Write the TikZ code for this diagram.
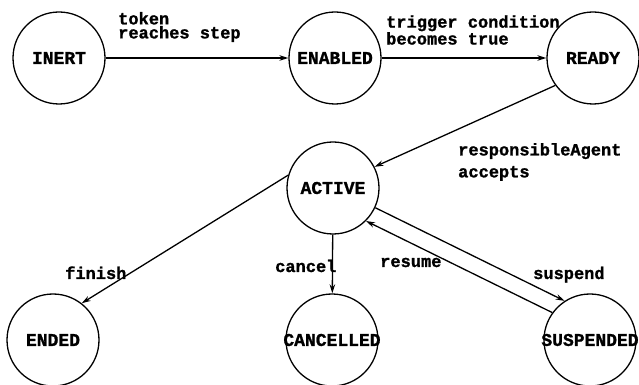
\documentclass[tikz,border=0pt]{standalone}
\usepackage{fontspec}
\setmonofont{Liberation Mono}[BoldFeatures={FakeBold=1.2}]
\usetikzlibrary{arrows.meta}
\newcommand{\statetext}[1]{\makebox[0pt]{#1}}

\begin{document}
\begin{tikzpicture}[x=1pt,y=1pt,
  state/.style={circle,draw,line width=1.3pt,minimum size=92pt,inner sep=0pt,
    font=\fontsize{18}{20}\selectfont\ttfamily\bfseries},
  trans/.style={line width=1.3pt,-{Stealth[length=9pt,width=5.5pt]}},
  lbl/.style={inner sep=0pt,align=left,font=\fontsize{17}{14}\selectfont\ttfamily\bfseries}]
\useasboundingbox (0,0) rectangle (639,385);

\node[state] (inert) at (59,327) {\statetext{INERT}};
\node[state] (enabled) at (335,327) {\statetext{ENABLED}};
\node[state] (ready) at (593,327) {\statetext{READY}};
\node[state] (active) at (333,197) {\statetext{ACTIVE}};
\node[state] (ended) at (53,45) {\statetext{ENDED}};
\node[state] (cancelled) at (332,45) {\statetext{CANCELLED}};
\node[state] (suspended) at (590,45) {\statetext{SUSPENDED}};

\draw[trans] (inert) -- (enabled);
\draw[trans] (enabled) -- (ready);
\draw[trans] (ready.-144) -- (active.27);
\draw[trans] (active.164) -- (ended.52);
\draw[trans] (active) -- (cancelled);
\draw[trans] (active.-25) -- (suspended.123);
\draw[trans] (suspended.144) -- (active.-45);

\node[lbl,anchor=west] (tokenlbl) at (118,358) {token\\reaches step};
\node[lbl,anchor=west] (triggerlbl) at (386,355) {trigger condition\\becomes true};
\node[lbl,anchor=west] (agentlbl) at (458,223) {responsibleAgent\\[6pt]accepts};
\node[lbl,anchor=base west] (finishlbl) at (65,106) {finish};
\node[lbl,anchor=base west] (cancellbl) at (275,113) {cancel};
\node[lbl,anchor=base west] (resumelbl) at (380,118) {resume};
\node[lbl,anchor=base west] (suspendlbl) at (533,106) {suspend};

\end{tikzpicture}
\end{document}
